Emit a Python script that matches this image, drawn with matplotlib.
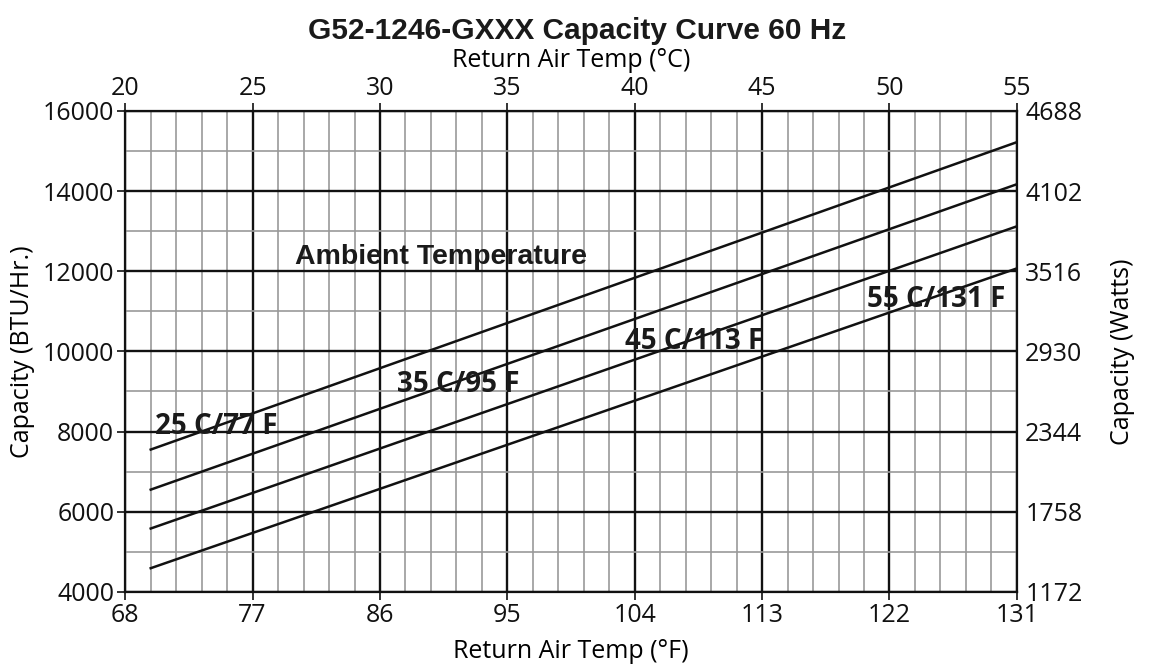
import numpy as np
import matplotlib
matplotlib.use("Agg")
import matplotlib.pyplot as plt

# capacity lines (BTU/Hr) at start (21 C / 69.8 F) and end (55 C / 131 F) return air temp
temp_f = [69.8, 131]
cap_25 = [7550, 15220]
cap_35 = [6550, 14170]
cap_45 = [5580, 13120]
cap_55 = [4590, 12070]
line_labels = ["25 C/77 F", "35 C/95 F", "45 C/113 F", "55 C/131 F"]
label_pos = [(70.1, 7930), (87.2, 8990), (103.3, 10070), (120.4, 11110)]

f_ticks = [68, 77, 86, 95, 104, 113, 122, 131]
c_ticks = [20, 25, 30, 35, 40, 45, 50, 55]
btu_ticks = [4000, 6000, 8000, 10000, 12000, 14000, 16000]
watt_labels = ["1172", "1758", "2344", "2930", "3516", "4102", "4688"]

plt.rcParams['font.family'] = ['Open Sans', 'DejaVu Sans']
FS = 18

fig = plt.figure(figsize=(11.49, 6.68), dpi=100)
ax = fig.add_axes([0.109, 0.114, 0.776, 0.720])

ax.set_xlim(68, 131)
ax.set_ylim(4000, 16000)

# grid
ax.set_xticks(f_ticks)
ax.set_xticks(np.arange(68, 131.01, 1.8), minor=True)
ax.set_yticks(btu_ticks)
ax.set_yticks(np.arange(4000, 16001, 1000), minor=True)
ax.grid(which='minor', color='#999999', linewidth=1.2, zorder=0)
ax.grid(which='major', color='#111111', linewidth=1.7, zorder=1)
ax.tick_params(which='minor', length=0)
ax.tick_params(which='major', length=6, width=1.2, labelsize=FS, direction='out',
               pad=2, colors='#111111')
ax.set_axisbelow(True)

for caps in [cap_25, cap_35, cap_45, cap_55]:
    ax.plot(temp_f, caps, color='#111111', linewidth=1.8, zorder=3)

for lbl, (x, y) in zip(line_labels, label_pos):
    ax.text(x, y, lbl, fontsize=20, fontweight='bold', ha='left', va='baseline',
            color='#1a1a1a', zorder=4)

ax.text(80.0, 12170, "Ambient Temperature", fontsize=20.5, fontweight='bold',
        family='Liberation Sans', ha='left', va='baseline', color='#1a1a1a', zorder=4)

for s in ax.spines.values():
    s.set_linewidth(1.6)
    s.set_color('#111111')

ax.set_xlabel("Return Air Temp (°F)", fontsize=FS)
ax.xaxis.set_label_coords(0.5, -0.125)
ax.xaxis.label.set_verticalalignment('center')
ax.set_ylabel("Capacity (BTU/Hr.)", fontsize=FS)
ax.yaxis.set_label_coords(-0.1155, 0.5)
ax.yaxis.label.set_verticalalignment('center')

# top axis in C
axt = ax.twiny()
axt.set_xlim((68 - 32) / 1.8, (131 - 32) / 1.8)
axt.set_xticks(c_ticks)
axt.tick_params(length=6, width=1.2, labelsize=FS, pad=1, colors='#111111')
axt.set_xlabel("Return Air Temp (°C)", fontsize=FS)
axt.xaxis.set_label_coords(0.5, 1.105)
axt.xaxis.label.set_verticalalignment('center')
for s in axt.spines.values():
    s.set_visible(False)

# right axis in watts
axr = ax.twinx()
axr.set_ylim(4000, 16000)
axr.set_yticks(btu_ticks)
axr.set_yticklabels(watt_labels)
axr.tick_params(length=0, labelsize=FS, pad=6, colors='#111111')
axr.set_ylabel("Capacity (Watts)", fontsize=FS)
axr.yaxis.set_label_coords(1.118, 0.5)
axr.yaxis.label.set_verticalalignment('center')
for s in axr.spines.values():
    s.set_visible(False)

fig.text(0.502, 0.953, "G52-1246-GXXX Capacity Curve 60 Hz", fontsize=21.5,
         fontweight='bold', family='Liberation Sans', ha='center', va='center',
         color='#1a1a1a')

fig.savefig("out.png", dpi=100)
